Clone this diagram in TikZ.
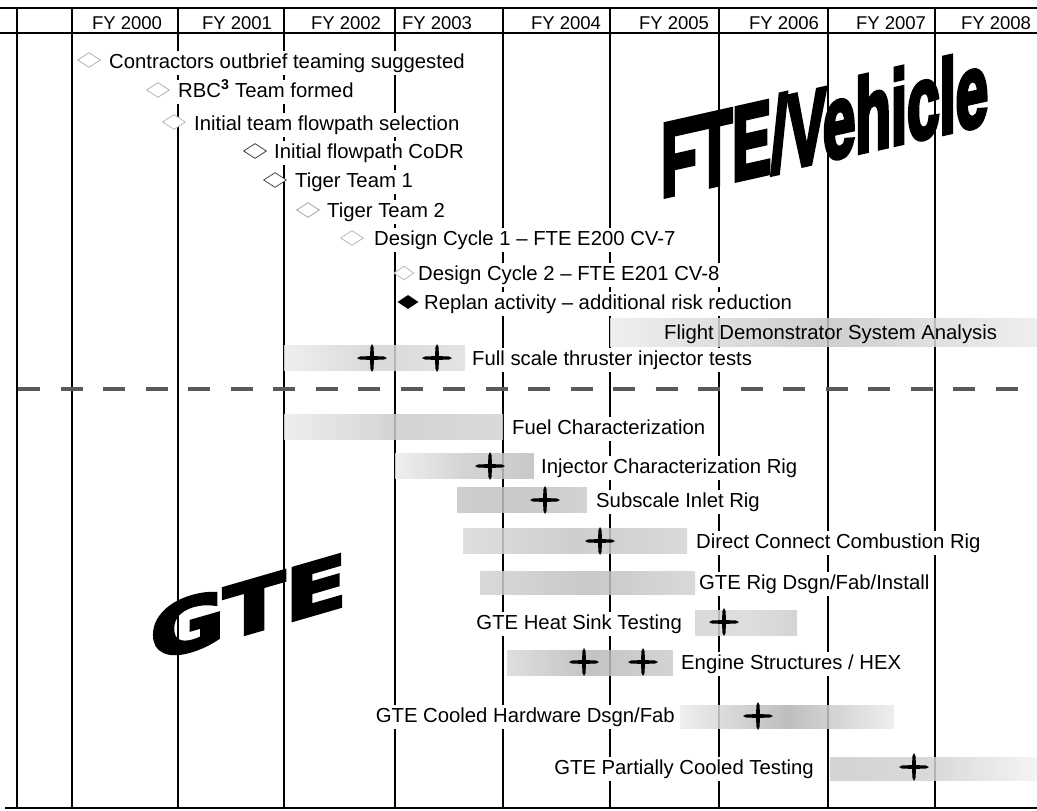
\documentclass[tikz,border=0pt]{standalone}
\usepackage{fontspec}
\setmainfont{Liberation Sans}
\newfontfamily\bigfont{Liberation Sans}[BoldFeatures={FakeBold=5}]
\newfontfamily\gtefont{DejaVu Sans}[BoldFeatures={FakeBold=4}]
\usetikzlibrary{shapes.geometric}
\tikzset{
  grid/.style={line width=1.2pt, black},
  frame/.style={line width=1.6pt, black},
  lbl/.style={font=\fontsize{20.3}{24}\selectfont, fill=white, inner xsep=2pt, inner ysep=2.5pt, text height=14.5pt, text depth=4.5pt, anchor=base west},
  lble/.style={lbl, anchor=base east},
  lbltr/.style={lbl, fill=none},
  hdr/.style={font=\fontsize{18.5}{21}\selectfont, anchor=base, inner sep=1pt},
  ms/.style={diamond, draw=#1, fill=white, line width=0.8pt, minimum width=23pt, minimum height=15pt, inner sep=0pt},
  msfill/.style={diamond, fill=black, minimum width=21pt, minimum height=14pt, inner sep=0pt},
  gbar/.style n args={3}{left color=#1, right color=#3, middle color=#2, draw=none, opacity=0.85},
  sep/.style={line width=4pt, black!65, dash pattern=on 22pt off 20.5pt},
  fteword/.style={font={\bigfont\bfseries\fontsize{104}{106}\selectfont}, anchor=base west, yslant=0.225, xscale=0.56, inner sep=0pt},
  gteword/.style={font={\gtefont\bfseries\fontsize{72}{76}\selectfont}, anchor=base west, yslant=0.29, xscale=1.26, inner sep=0pt},
  mstar/.pic={\fill[black] (-15,0) -- (-12,-1.5) -- (-2,-1.9) -- (-1.5,-11) -- (0,-14) -- (1.5,-11) -- (2,-1.9) -- (12,-1.5) -- (15,0) -- (12,1.5) -- (2,1.9) -- (1.5,11) -- (0,14) -- (-1.5,11) -- (-2,1.9) -- (-12,1.5) -- cycle;}
}
\begin{document}
\begin{tikzpicture}[x=1pt,y=-1pt]
\useasboundingbox (0,0) rectangle (1037,811);
% frame
\draw[frame] (0,8) -- (1037,8);
\draw[frame] (0,33) -- (1037,33);
\draw[frame] (5,808) -- (1037,808);
\foreach \x in {17,72,178,284,395,503,610,719,828,935} \draw[grid] (\x,8) -- (\x,808);
% header
\foreach \x/\t [count=\i] in {127/2000,237/2001,346/2002,437/2003,566/2004,674/2005,784/2006,891/2007,996/2008}
  \node[hdr] (fy\i) at (\x,30) {FY \t};
% bars
\path[gbar={gray!15}{gray!45}{gray!15}] (610,318) rectangle (1037,346);
\path[gbar={gray!15}{gray!35}{gray!25}] (284,345) rectangle (465,370);
\path[gbar={gray!15}{gray!40}{gray!35}] (284,414) rectangle (503,439);
\path[gbar={gray!15}{gray!40}{gray!50}] (395,453) rectangle (534,478);
\path[gbar={gray!45}{gray!50}{gray!40}] (457,487) rectangle (587,512);
\path[gbar={gray!30}{gray!45}{gray!35}] (463,528) rectangle (687,553);
\path[gbar={gray!35}{gray!50}{gray!35}] (480,571) rectangle (695,594);
\path[gbar={gray!35}{gray!30}{gray!40}] (695,610) rectangle (797,635);
\path[gbar={gray!30}{gray!55}{gray!40}] (507,650) rectangle (673,675);
\path[gbar={gray!15}{gray!60}{gray!15}] (680,705) rectangle (894,728);
\path[gbar={gray!40}{gray!35}{gray!10}] (830,757) rectangle (1037,780);
% separator
\draw[sep] (18,389) -- (1037,389);
% stars
\foreach \p in {(372,358),(437,358),(490,466),(545,500),(600,541),(724,622),(584,662),(643,662),(758,716),(914,767)}
  \pic at \p {mstar};
% milestones
\node[ms=gray!60] (d1) at (89,60) {};
\node[ms=gray!60] (d2) at (158,90) {};
\node[ms=gray!55] (d3) at (174,122) {};
\node[ms=black!75] (d4) at (255,151) {};
\node[ms=black!70] (d5) at (275,180) {};
\node[ms=gray!70] (d6) at (308,210) {};
\node[ms=gray!55] (d7) at (352,238) {};
\node[ms=gray!55, minimum width=20pt, minimum height=14pt] (d8) at (404,273) {};
\node[msfill] (d9) at (408,302) {};
% labels
\node[lbl] (t1) at (107,68) {Contractors outbrief teaming suggested};
\node[lbl] (t2) at (176,97) {RBC\textsuperscript{\textbf{3}} Team formed};
\node[lbl] (t3) at (192,130) {Initial team flowpath selection};
\node[lbl] (t4) at (272,158) {Initial flowpath CoDR};
\node[lbl] (t5) at (293,187) {Tiger Team 1};
\node[lbl] (t6) at (325,217) {Tiger Team 2};
\node[lbl] (t7) at (372,245) {Design Cycle 1 – FTE E200 CV-7};
\node[lbl] (t8) at (416,280) {Design Cycle 2 – FTE E201 CV-8};
\node[lbl] (t9) at (422,309) {Replan activity – additional risk reduction};
\node[lbltr] (t10) at (662,339) {Flight Demonstrator System Analysis};
\node[lbl] (t11) at (470,365) {Full scale thruster injector tests};
\node[lbl] (t12) at (510,434) {Fuel Characterization};
\node[lbl] (t13) at (539,473) {Injector Characterization Rig};
\node[lbl] (t14) at (594,507) {Subscale Inlet Rig};
\node[lbl] (t15) at (694,548) {Direct Connect Combustion Rig};
\node[lbl] (t16) at (697,589) {GTE Rig Dsgn/Fab/Install};
\node[lble] (t17) at (684,629) {GTE Heat Sink Testing};
\node[lbl] (t18) at (679,669) {Engine Structures / HEX};
\node[lble] (t19) at (677,722) {GTE Cooled Hardware Dsgn/Fab};
\node[lble] (t20) at (816,774) {GTE Partially Cooled Testing};
% big words
\node[fteword] (fte) at (661,197) {FTE/Vehicle};
\node[gteword] (gte) at (150,662) {GTE};
\end{tikzpicture}
\end{document}
